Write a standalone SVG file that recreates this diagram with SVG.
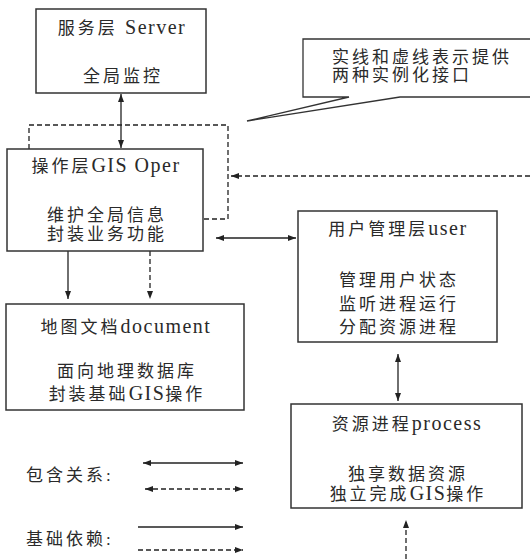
<svg xmlns="http://www.w3.org/2000/svg" width="530" height="559" viewBox="0 0 530 559">
<style>
.box{fill:#fff;stroke:#333;stroke-width:1.5}
.t{font-family:"Liberation Serif","Noto Sans CJK SC",serif;font-size:17px;letter-spacing:3px;fill:#2a2a2a;text-anchor:middle}
.L{font-size:20px;letter-spacing:1.5px}
.s{text-anchor:start}
.ln{fill:none;stroke:#222;stroke-width:1.3}
.d{stroke-dasharray:5 3}
</style>
<defs>
<marker id="a" viewBox="0 0 8 6" refX="8" refY="3" markerWidth="8" markerHeight="6" markerUnits="userSpaceOnUse" orient="auto-start-reverse">
<path d="M0,0 L8,3 L0,6 z" fill="#222"/>
</marker>
</defs>
<rect width="530" height="559" fill="#fff"/>
<g id="connectors">
<line class="ln" x1="121" y1="94" x2="121" y2="148" marker-start="url(#a)" marker-end="url(#a)"/>
<polyline class="ln d" points="29,149 29,125 228,125 228,219 203,219"/>
<line class="ln d" x1="530" y1="176" x2="231" y2="176" marker-end="url(#a)"/>
<line class="ln" x1="216" y1="238" x2="296" y2="238" marker-start="url(#a)" marker-end="url(#a)"/>
<line class="ln" x1="68" y1="251" x2="68" y2="299" marker-end="url(#a)"/>
<line class="ln d" x1="150" y1="251" x2="150" y2="299" marker-end="url(#a)"/>
<line class="ln" x1="398" y1="354" x2="398" y2="401" marker-start="url(#a)" marker-end="url(#a)"/>
<line class="ln d" x1="406" y1="559" x2="406" y2="520" marker-end="url(#a)"/>
</g>
<g id="callout">
<path d="M532,39 L303,39 L303,97 L349,97 L247,121 L400,97 L532,97" fill="#fff" stroke="#333" stroke-width="1.3"/>
<text class="t s" x="332" y="63">实线和虚线表示提供</text>
<text class="t s" x="332" y="81">两种实例化接口</text>
</g>
<g id="server">
<rect class="box" x="36" y="9" width="170" height="84"/>
<text class="t" x="122" y="34">服务层 <tspan class="L">Server</tspan></text>
<text class="t" x="123" y="82">全局监控</text>
</g>
<g id="oper">
<rect class="box" x="7" y="149" width="196" height="102"/>
<text class="t" x="106" y="172">操作层<tspan class="L">GIS Oper</tspan></text>
<text class="t" x="107" y="221">维护全局信息</text>
<text class="t" x="107" y="240">封装业务功能</text>
</g>
<g id="document">
<rect class="box" x="6" y="304" width="238" height="106"/>
<text class="t" x="126" y="333">地图文档<tspan class="L">document</tspan></text>
<text class="t" x="127" y="377">面向地理数据库</text>
<text class="t" x="127" y="400">封装基础<tspan class="L">GIS</tspan>操作</text>
</g>
<g id="user">
<rect class="box" x="298" y="211" width="199" height="131"/>
<text class="t" x="398" y="235">用户管理层<tspan class="L">user</tspan></text>
<text class="t" x="399" y="286">管理用户状态</text>
<text class="t" x="399" y="310">监听进程运行</text>
<text class="t" x="399" y="333">分配资源进程</text>
</g>
<g id="process">
<rect class="box" x="291" y="404" width="231" height="104"/>
<text class="t" x="407" y="430">资源进程<tspan class="L">process</tspan></text>
<text class="t" x="408" y="480">独享数据资源</text>
<text class="t" x="408" y="500">独立完成<tspan class="L">GIS</tspan>操作</text>
</g>
<g id="legend">
<text class="t s" x="26" y="481">包含关系:</text>
<text class="t s" x="26" y="545">基础依赖:</text>
<line class="ln" x1="143" y1="463" x2="243" y2="463" marker-start="url(#a)" marker-end="url(#a)"/>
<line class="ln d" x1="145" y1="489" x2="243" y2="489" marker-start="url(#a)" marker-end="url(#a)"/>
<line class="ln" x1="138" y1="527" x2="243" y2="527" marker-end="url(#a)"/>
<line class="ln d" x1="138" y1="550" x2="243" y2="550" marker-end="url(#a)"/>
</g>
</svg>
